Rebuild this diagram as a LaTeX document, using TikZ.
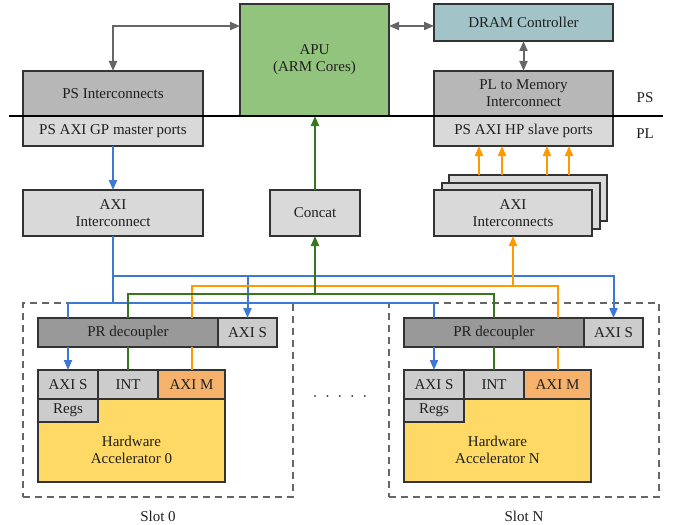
\documentclass[tikz,border=0pt]{standalone}
\usepackage{fontspec}
\setmainfont{Liberation Serif}
\usetikzlibrary{arrows.meta}

\definecolor{apugreen}{HTML}{93C47D}
\definecolor{dramblue}{HTML}{A2C4C9}
\definecolor{icgray}{HTML}{B7B7B7}
\definecolor{portgray}{HTML}{D9D9D9}
\definecolor{decgray}{HTML}{999999}
\definecolor{slotgray}{HTML}{CCCCCC}
\definecolor{aximorange}{HTML}{F6B26B}
\definecolor{hwyellow}{HTML}{FFD966}
\definecolor{wireblue}{HTML}{3C78D8}
\definecolor{wiregreen}{HTML}{38761D}
\definecolor{wireorange}{HTML}{FF9900}
\definecolor{wiregray}{HTML}{666666}

\begin{document}
\begin{tikzpicture}[x=1pt, y=-1pt, inner sep=0, outer sep=0,
    every node/.style={font=\fontsize{15}{17}\selectfont, text=black!88},
    blk/.style={rectangle, draw=black!80, line width=1.2pt, anchor=north west, align=center},
    slotbox/.style={rectangle, draw=wiregray, line width=1.5pt, dash pattern=on 7pt off 5pt, anchor=north west},
    >={Triangle[length=10pt, width=8pt]},
    graywire/.style={draw=wiregray, line width=2pt},
    bluewire/.style={draw=wireblue, line width=2pt},
    greenwire/.style={draw=wiregreen, line width=2pt},
    orangewire/.style={draw=wireorange, line width=2pt}]
  \useasboundingbox (0,0) rectangle (676,524);

  % processing system
  \node[blk, fill=apugreen, minimum width=149pt, minimum height=112pt] (apu) at (240,4) {APU\\(ARM Cores)};
  \node[blk, fill=dramblue, minimum width=179pt, minimum height=37pt] (dram) at (434,4) {DRAM Controller};
  \node[blk, fill=icgray, minimum width=180pt, minimum height=45pt] (psic) at (23,71) {PS Interconnects};
  \node[blk, fill=portgray, minimum width=180pt, minimum height=30pt] (gp) at (psic.south west) {PS AXI GP master ports};
  \node[blk, fill=icgray, minimum width=179pt, minimum height=45pt] (plmem) at (434,71) {PL to Memory\\Interconnect};
  \node[blk, fill=portgray, minimum width=179pt, minimum height=30pt] (hp) at (plmem.south west) {PS AXI HP slave ports};

  % PS / PL boundary
  \coordinate (bndl) at (9,116);
  \coordinate (bndr) at (663,116);
  \draw[line width=1.4pt] (bndl) -- (bndr);
  \node (pslbl) at (645,98) {PS};
  \node (pllbl) at (645,134) {PL};

  \coordinate (apuport) at ([yshift=-22pt]apu.north west);
  \draw[graywire, <->] (psic.north) |- (apuport);
  \draw[graywire, <->] (apu.east |- apuport) -- (dram.west |- apuport);
  \draw[graywire, <->] (dram.south) -- (plmem.north);

  % programmable logic
  \node[blk, fill=portgray, minimum width=180pt, minimum height=46pt] (axiic) at (23,190) {AXI\\Interconnect};
  \node[blk, fill=portgray, minimum width=90pt, minimum height=46pt] (concat) at (270,190) {Concat};
  \node[blk, fill=portgray, minimum width=158pt, minimum height=46pt] (axiics3) at (449,175) {};
  \node[blk, fill=portgray, minimum width=158pt, minimum height=46pt] (axiics2) at (442,183) {};
  \node[blk, fill=portgray, minimum width=158pt, minimum height=46pt] (axiics) at (434,190) {AXI\\Interconnects};

  \draw[bluewire, ->] (gp.south) -- (axiic.north);
  \draw[greenwire, ->] (concat.north) -- (concat.north |- apu.south);
  \coordinate (hpin1) at ([xshift=30pt]axiics3.north west);
  \coordinate (hpin2) at ([xshift=53pt]axiics3.north west);
  \coordinate (hpin3) at ([xshift=98pt]axiics3.north west);
  \coordinate (hpin4) at ([xshift=120pt]axiics3.north west);
  \draw[orangewire, ->] (hpin1) -- (hpin1 |- hp.south);
  \draw[orangewire, ->] (hpin2) -- (hpin2 |- hp.south);
  \draw[orangewire, ->] (hpin3) -- (hpin3 |- hp.south);
  \draw[orangewire, ->] (hpin4) -- (hpin4 |- hp.south);

  % slots
  \node[slotbox, minimum width=270pt, minimum height=194pt] (slot0) at (23,303) {};
  \node[slotbox, minimum width=270pt, minimum height=194pt] (slotN) at ([xshift=366pt]slot0.north west) {};
  \node (slot0lbl) at ([yshift=-19pt]slot0.south) {Slot 0};
  \node (slotNlbl) at ([yshift=-19pt]slotN.south) {Slot N};
  \node (dots) at (340,399) {\textperiodcentered\hspace{7.4pt}\textperiodcentered\hspace{7.4pt}\textperiodcentered\hspace{7.4pt}\textperiodcentered\hspace{7.4pt}\textperiodcentered};

  \node[blk, fill=decgray, minimum width=180pt, minimum height=29pt] (dec0) at (38,318) {PR decoupler};
  \node[blk, fill=slotgray, minimum width=59pt, minimum height=29pt] (decs0) at (dec0.north east) {AXI S};
  \node[blk, fill=hwyellow, minimum width=187pt, minimum height=112pt] (hw0) at (38,370) {};
  \node[blk, fill=slotgray, minimum width=60pt, minimum height=29pt] (axis0) at (hw0.north west) {AXI S};
  \node[blk, fill=slotgray, minimum width=60pt, minimum height=29pt] (int0) at (axis0.north east) {INT};
  \node[blk, fill=aximorange, minimum width=67pt, minimum height=29pt] (axim0) at (int0.north east) {AXI M};
  \node[blk, fill=slotgray, minimum width=60pt, minimum height=23pt] (regs0) at (axis0.south west) {Regs};
  \node[align=center] (hw0txt) at ([yshift=32pt]hw0.south) {Hardware\\Accelerator 0};

  \node[blk, fill=decgray, minimum width=180pt, minimum height=29pt] (decN) at ([xshift=366pt]dec0.north west) {PR decoupler};
  \node[blk, fill=slotgray, minimum width=59pt, minimum height=29pt] (decsN) at (decN.north east) {AXI S};
  \node[blk, fill=hwyellow, minimum width=187pt, minimum height=112pt] (hwN) at ([xshift=366pt]hw0.north west) {};
  \node[blk, fill=slotgray, minimum width=60pt, minimum height=29pt] (axisN) at (hwN.north west) {AXI S};
  \node[blk, fill=slotgray, minimum width=60pt, minimum height=29pt] (intN) at (axisN.north east) {INT};
  \node[blk, fill=aximorange, minimum width=67pt, minimum height=29pt] (aximN) at (intN.north east) {AXI M};
  \node[blk, fill=slotgray, minimum width=60pt, minimum height=23pt] (regsN) at (axisN.south west) {Regs};
  \node[align=center] (hwNtxt) at ([yshift=32pt]hwN.south) {Hardware\\Accelerator N};

  % buses
  \coordinate (bluebus) at (0,276);
  \coordinate (orangebus) at (0,286);
  \coordinate (greenbus) at (0,294);
  \coordinate (lowbus) at (0,303);

  \draw[bluewire] (axiic.south) -- (axiic.south |- lowbus);
  \draw[bluewire] (axis0 |- dec0.north) |- (axisN |- lowbus) -- (axisN |- decN.north);
  \draw[bluewire, ->] (axiic.south |- bluebus) -| (decsN.north);
  \draw[bluewire, ->] (decs0 |- bluebus) -- (decs0.north);

  \draw[orangewire] (axim0 |- dec0.north) |- (aximN |- orangebus) -- (aximN |- decN.north);
  \draw[orangewire, ->] (axiics.south |- orangebus) -- (axiics.south);

  \draw[greenwire] (int0 |- dec0.north) |- (intN |- greenbus) -- (intN |- decN.north);
  \draw[greenwire, ->] (concat.south |- greenbus) -- (concat.south);

  \draw[bluewire, ->] (axis0 |- dec0.south) -- (axis0.north);
  \draw[greenwire] (int0 |- dec0.south) -- (int0.north);
  \draw[orangewire] (axim0 |- dec0.south) -- (axim0.north);
  \draw[bluewire, ->] (axisN |- decN.south) -- (axisN.north);
  \draw[greenwire] (intN |- decN.south) -- (intN.north);
  \draw[orangewire] (aximN |- decN.south) -- (aximN.north);
\end{tikzpicture}
\end{document}
